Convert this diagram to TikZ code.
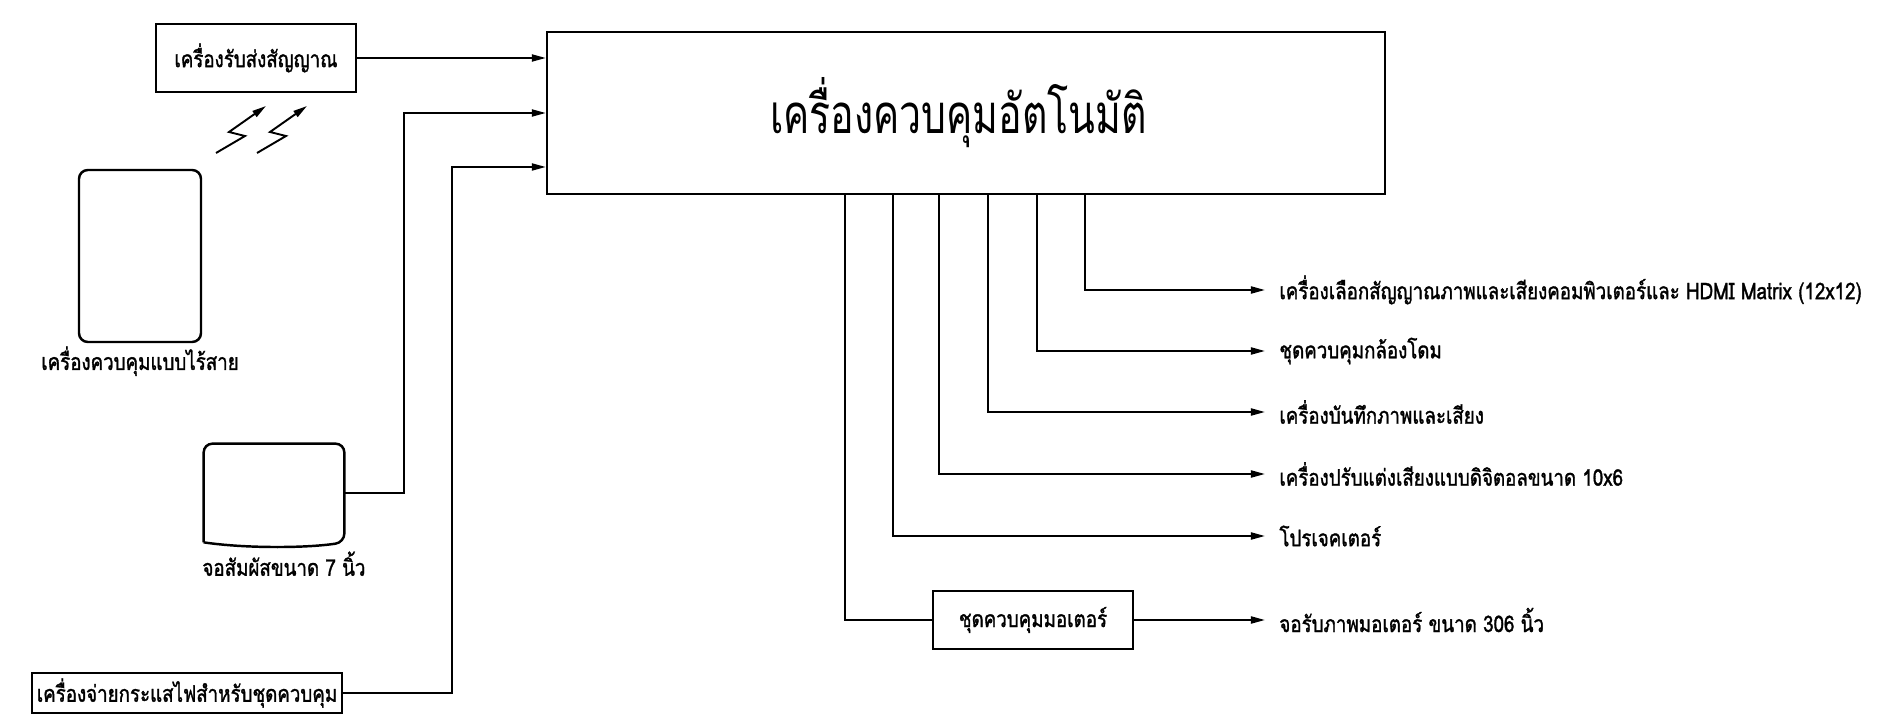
\documentclass[tikz,border=0pt]{standalone}
\usepackage{fontspec}
\setmainfont[Script=Thai,FakeStretch=0.82,FakeBold=1.4]{Loma}
\newfontfamily\titlefont[Script=Thai,FakeStretch=0.72]{Loma}
\usetikzlibrary{positioning,arrows.meta}

\begin{document}
\begin{tikzpicture}[x=0.02cm,y=-0.02cm,
  every node/.style={font=\fontsize{13}{15}\selectfont},
  box/.style={draw,line width=1.4pt,inner sep=2pt},
  dev/.style={draw,line width=1.4pt,rounded corners=5pt},
  lbl/.style={anchor=west,inner xsep=8pt,inner ysep=0pt},
  sig/.style={line width=1.1pt,-{Triangle[length=8pt,width=4pt]}},
  wire/.style={line width=1.1pt}]
  \useasboundingbox (0,0) rectangle (1880,716);
  % controller
  \node[box,minimum width=16.76cm,minimum height=3.24cm,font=\titlefont\fontsize{31}{34}\selectfont] (main) at (966,113) {\hspace*{-0.3cm}เครื่องควบคุมอัตโนมัติ};
  % inputs
  \node[box,minimum width=4cm,minimum height=1.36cm] (recv) at (256,58) {เครื่องรับส่งสัญญาณ};
  \node[dev,minimum width=2.44cm,minimum height=3.44cm] (remote) at (140,256) {};
  \node[below=-0.6mm of remote] (remotelbl) {เครื่องควบคุมแบบไร้สาย};
  \node[minimum width=2.8cm,minimum height=1.96cm] (touch) at (274,493) {};
  \draw[line width=1.4pt,rounded corners=5pt] (touch.south west) -- (touch.north west) -- (touch.north east) -- (touch.south east) [sharp corners] .. controls +(-0.8cm,-0.12cm) and +(0.8cm,-0.12cm) .. (touch.south west);
  \node[below=0.6mm of touch,xshift=2mm] (touchlbl) {จอสัมผัสขนาด 7 นิ้ว};
  \node[box,minimum width=6.2cm,minimum height=0.8cm] (power) at (187,693) {เครื่องจ่ายกระแสไฟสำหรับชุดควบคุม};
  % wireless link
  \draw[sig] (216,153) -- (245,136) -- (229,132) -- (266,106);
  \draw[sig] (257,153) -- (286,136) -- (270,132) -- (307,106);
  \draw[sig] (recv.east) -- (recv.east -| main.west);
  \draw[sig] (touch.east) -- ++(1.2cm,0) |- (main.west);
  \draw[sig] (power.east) -- ++(2.18cm,0) |- ([yshift=-1.08cm]main.west);
  % outputs
  \node[lbl] (o1) at (1265,290) {เครื่องเลือกสัญญาณภาพและเสียงคอมพิวเตอร์และ HDMI Matrix (12x12)};
  \node[lbl] (o2) at (1265,351) {ชุดควบคุมกล้องโดม};
  \node[lbl] (o3) at (1265,412) {เครื่องบันทึกภาพและเสียง};
  \node[lbl] (o4) at (1265,474) {เครื่องปรับแต่งเสียงแบบดิจิตอลขนาด 10x6};
  \node[lbl] (o5) at (1265,536) {โปรเจคเตอร์};
  \node[box,minimum width=4cm,minimum height=1.16cm] (motor) at (1033,620) {ชุดควบคุมมอเตอร์};
  \node[lbl] (o6) at (1265,620) {จอรับภาพมอเตอร์ ขนาด 306 นิ้ว};
  \draw[sig] ([xshift=2.38cm]main.south) |- (o1.west);
  \draw[sig] ([xshift=1.42cm]main.south) |- (o2.west);
  \draw[sig] ([xshift=0.44cm]main.south) |- (o3.west);
  \draw[sig] ([xshift=-0.54cm]main.south) |- (o4.west);
  \draw[sig] ([xshift=-1.46cm]main.south) |- (o5.west);
  \draw[wire] ([xshift=-2.42cm]main.south) |- (motor.west);
  \draw[sig] (motor.east) -- (o6.west);
\end{tikzpicture}
\end{document}
